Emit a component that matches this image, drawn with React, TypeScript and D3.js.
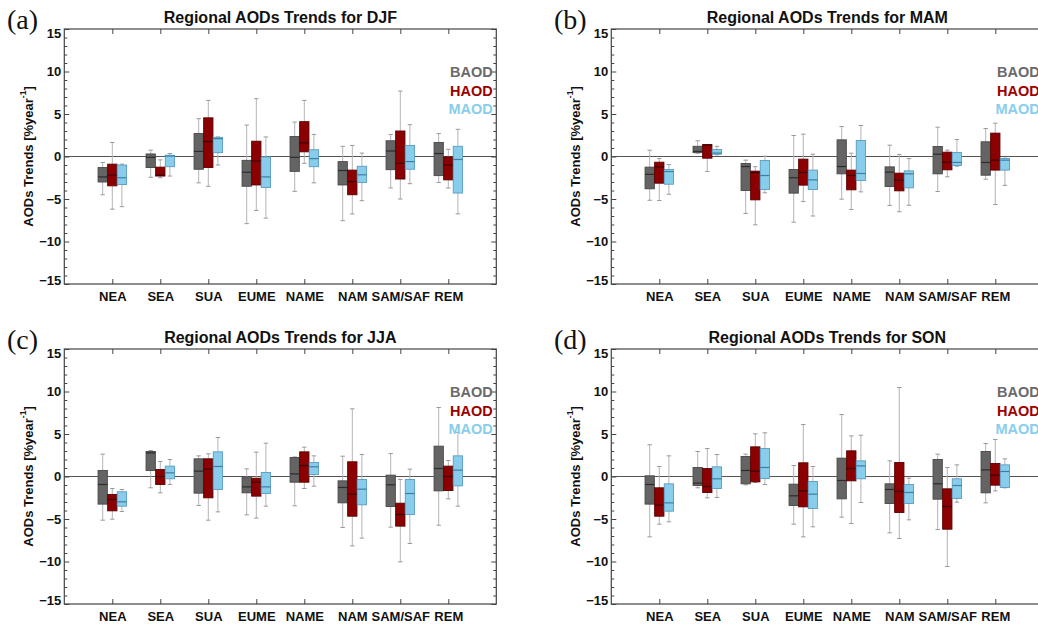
import React, { useEffect, useRef } from "react";
import * as d3 from "d3";

// categories / series
const regions = ["NEA", "SEA", "SUA", "EUME", "NAME", "NAM", "SAM/SAF", "REM"];
const seriesNames = ["BAOD", "HAOD", "MAOD"];
const seasons = ["DJF", "MAM", "JJA", "SON"];
const panelTags = ["(a)", "(b)", "(c)", "(d)"];
const yMajor = [-15, -10, -5, 0, 5, 10, 15];

// each entry: [min, q1, median, q3, max] per region
const djfBAOD = [[-4.5, -3.0, -2.4, -1.3, -0.7], [-2.45, -1.3, -0.1, 0.3, 0.75], [-3.1, -1.5, 0.6, 2.7, 4.45], [-7.9, -3.5, -1.85, -0.45, 3.7], [-4.1, -1.75, -0.1, 2.35, 4.05], [-7.55, -3.35, -1.65, -0.6, 1.2], [-3.7, -1.55, 0.65, 1.85, 2.6], [-3.05, -2.25, 0.35, 1.65, 2.7]];
const djfHAOD = [[-6.2, -3.45, -2.2, -0.9, 1.65], [-2.5, -2.3, -2.2, -1.25, -0.4], [-3.5, -1.3, 1.75, 4.55, 6.6], [-6.35, -3.35, -0.5, 1.8, 6.8], [-0.8, 0.55, 1.6, 4.1, 6.6], [-6.75, -4.5, -2.95, -1.6, 1.3], [-5.0, -2.65, -0.8, 3.0, 7.7], [-3.7, -2.75, -1.0, -0.05, 0.85]];
const djfMAOD = [[-5.9, -3.3, -2.5, -1.0, -0.9], [-2.3, -1.2, 0.05, 0.15, 0.35], [-1.0, 0.45, 2.1, 2.25, 2.3], [-7.25, -3.65, -2.4, -0.05, 2.3], [-3.1, -1.2, -0.25, 0.8, 2.6], [-5.2, -3.05, -2.15, -1.15, 0.4], [-3.2, -1.5, -0.6, 1.3, 3.75], [-6.75, -4.3, -0.35, 1.2, 3.2]];

const mamBAOD = [[-5.15, -3.8, -2.1, -1.25, 0.74], [0.4, 0.45, 0.6, 1.2, 1.85], [-6.7, -4.0, -1.18, -0.82, -0.43], [-7.73, -4.31, -2.5, -1.53, 2.47], [-5.02, -2.04, -1.18, 1.96, 3.53], [-5.76, -3.53, -1.84, -1.22, 1.33], [-4.12, -2.04, 0.27, 1.18, 3.45], [-2.67, -2.2, -0.7, 1.73, 3.29]];
const mamHAOD = [[-5.18, -3.14, -1.22, -0.67, -0.24], [-1.76, -0.2, 1.35, 1.4, 1.4], [-8.04, -5.1, -1.9, -1.72, -1.2], [-5.3, -3.37, -1.88, -0.31, 2.63], [-6.24, -3.92, -2.24, -1.6, 0.39], [-6.5, -4.04, -2.8, -1.96, 0.24], [-2.39, -1.57, -0.67, 0.51, 0.75], [-5.65, -1.6, -0.43, 2.75, 3.92]];
const mamMAOD = [[-4.44, -3.26, -1.77, -1.53, -0.95], [0.2, 0.27, 0.4, 0.82, 1.2], [-4.27, -3.88, -2.24, -0.47, 0.04], [-7.0, -3.88, -2.75, -1.6, 0.27], [-4.16, -2.82, -2.0, 1.88, 3.65], [-5.73, -3.69, -2.04, -1.69, -0.24], [-1.14, -1.06, -0.7, 0.47, 2.0], [-3.4, -1.6, -0.43, -0.24, -0.2]];

const jjaBAOD = [[-5.14, -3.25, -0.94, 0.71, 2.63], [-1.33, 0.71, 2.78, 2.94, 3.06], [-3.41, -1.96, 0.63, 2.08, 2.43], [-4.51, -1.92, -1.22, -0.08, 0.9], [-3.45, -0.67, 0.31, 2.24, 2.3], [-6.0, -3.1, -1.29, -0.51, 2.39], [-5.96, -3.53, -0.98, 0.16, 2.7], [-5.73, -1.69, 0.94, 3.57, 8.12]];
const jjaHAOD = [[-5.02, -4.04, -2.7, -2.12, -1.41], [-1.92, -0.94, 0.0, 0.82, 1.76], [-5.14, -2.51, 0.86, 2.08, 2.67], [-4.9, -2.31, -0.67, -0.2, 2.86], [-1.41, -0.67, 1.29, 2.9, 3.45], [-8.16, -4.67, -2.08, 1.73, 7.96], [-10.04, -5.84, -4.47, -3.14, -0.35], [-2.63, -1.65, 0.0, 1.22, 1.88]];
const jjaMAOD = [[-4.12, -3.49, -2.98, -1.8, -1.53], [-0.94, -0.27, 0.43, 1.22, 2.0], [-4.16, -1.53, 1.18, 2.9, 4.59], [-3.49, -2.0, -1.22, 0.47, 3.92], [-1.14, 0.24, 1.14, 1.65, 2.43], [-7.25, -3.33, -1.49, -0.35, 2.59], [-7.88, -4.47, -2.0, -0.35, 0.86], [-3.49, -1.1, 0.75, 2.43, 5.2]];

const sonBAOD = [[-7.1, -3.25, -0.94, 0.08, 3.73], [-1.33, -1.06, -0.78, 1.06, 2.94], [-0.98, -0.86, 0.71, 2.35, 2.63], [-5.61, -3.41, -2.27, -0.9, 1.29], [-4.78, -2.63, -0.47, 2.16, 7.29], [-6.63, -3.18, -1.53, -0.86, 1.84], [-6.24, -2.67, -0.86, 2.0, 2.63], [-3.1, -1.92, 0.78, 2.94, 3.88]];
const sonHAOD = [[-5.61, -4.67, -3.37, -1.33, 1.18], [-2.51, -1.88, -1.18, 0.94, 3.29], [-0.7, -0.63, 0.63, 3.49, 5.02], [-7.1, -3.57, -1.69, 1.61, 6.12], [-5.53, -0.51, 0.94, 3.02, 4.78], [-7.29, -4.24, -1.76, 1.65, 10.47], [-10.59, -6.2, -3.53, -1.45, 1.06], [-1.69, -1.02, 0.16, 1.53, 4.35]];
const sonMAOD = [[-5.33, -4.08, -3.1, -0.86, 2.43], [-2.47, -1.41, -0.27, 1.14, 2.59], [-0.94, -0.24, 1.06, 3.29, 5.14], [-5.92, -3.76, -2.08, -0.59, 1.18], [-3.06, -0.27, 1.25, 1.84, 4.86], [-5.1, -3.18, -1.88, -0.94, -0.2], [-3.02, -2.59, -1.06, -0.27, 1.37], [-1.33, -1.29, 0.59, 1.37, 2.08]];

const panelData = [
  [djfBAOD, djfHAOD, djfMAOD],
  [mamBAOD, mamHAOD, mamMAOD],
  [jjaBAOD, jjaHAOD, jjaMAOD],
  [sonBAOD, sonHAOD, sonMAOD],
];

// styles
const boxFill = ["#646464", "#8b0000", "#88ceec"];
const boxStroke = ["#484848", "#5c0000", "#5a9cc0"];
const medianColor = ["#2c2c2c", "#3a0000", "#3e7ea2"];
const legendColor = ["#6a6a6a", "#9e0000", "#88ceec"];

const W = 1038;
const H = 625;
const panelOrigin = [[0, 0], [547, 0], [0, 320], [547, 320]];
const frame = { left: 64.3, top: 29, width: 432, height: 255 };

export default function App() {
  const svgRef = useRef(null);

  useEffect(() => {
    document.body.style.margin = "0";
    const svg = d3.select(svgRef.current);
    svg.selectAll("*").remove();

    const x = d3.scalePoint().domain(regions).range([0, frame.width]).padding(1);
    const step = x.step();
    const xs = d3.scaleBand().domain(seriesNames).range([-0.3 * step, 0.3 * step]);
    const bw = xs.bandwidth() - 0.3;
    const y = d3.scaleLinear().domain([-15, 15]).range([frame.height, 0]);
    const minor = d3.range(-15, 16).filter((v) => v % 5 !== 0);

    panelData.forEach((series, p) => {
      const [ox, oy] = panelOrigin[p];
      const g = svg.append("g").attr("transform", `translate(${ox},${oy})`);

      // panel tag
      g.append("text")
        .attr("x", 7)
        .attr("y", 29)
        .attr("font-family", "'Liberation Serif', 'DejaVu Serif', serif")
        .attr("font-size", 28)
        .attr("fill", "#111")
        .text(panelTags[p]);

      // title
      g.append("text")
        .attr("x", frame.left + frame.width / 2)
        .attr("y", 22.5)
        .attr("text-anchor", "middle")
        .attr("font-size", 16)
        .attr("font-weight", "bold")
        .attr("fill", "#111")
        .text(`Regional AODs Trends for ${seasons[p]}`);

      const plot = g.append("g").attr("transform", `translate(${frame.left},${frame.top})`);

      // zero line
      plot.append("line")
        .attr("x1", 0).attr("x2", frame.width)
        .attr("y1", y(0)).attr("y2", y(0))
        .attr("stroke", "#555").attr("stroke-width", 1);

      // boxes
      series.forEach((vals, s) => {
        const grp = plot.append("g");
        vals.forEach((d, i) => {
          const cx = x(regions[i]) + xs(seriesNames[s]) + xs.bandwidth() / 2;
          const [mn, q1, md, q3, mx] = d;
          grp.append("line")
            .attr("x1", cx).attr("x2", cx)
            .attr("y1", y(mx)).attr("y2", y(mn))
            .attr("stroke", "#b4b4b4").attr("stroke-width", 1);
          [mn, mx].forEach((v) => {
            grp.append("line")
              .attr("x1", cx - 2.2).attr("x2", cx + 2.2)
              .attr("y1", y(v)).attr("y2", y(v))
              .attr("stroke", "#999").attr("stroke-width", 1);
          });
          grp.append("rect")
            .attr("x", cx - bw / 2)
            .attr("y", y(q3))
            .attr("width", bw)
            .attr("height", Math.max(1, y(q1) - y(q3)))
            .attr("fill", boxFill[s])
            .attr("stroke", boxStroke[s])
            .attr("stroke-width", 0.9);
          grp.append("line")
            .attr("x1", cx - bw / 2).attr("x2", cx + bw / 2)
            .attr("y1", y(md)).attr("y2", y(md))
            .attr("stroke", medianColor[s]).attr("stroke-width", 1.2);
        });
      });

      // axes
      const left = plot.append("g")
        .call(d3.axisLeft(y).tickValues(yMajor).tickSizeInner(-5).tickSizeOuter(0).tickPadding(3).tickFormat(d3.format("d")));
      left.selectAll("text")
        .attr("font-size", 13)
        .attr("font-weight", "bold")
        .attr("fill", "#111")
        .attr("transform", (d) => (d === 15 ? "translate(0,4)" : d === -15 ? "translate(0,-4)" : null));
      plot.append("g").call(d3.axisLeft(y).tickValues(minor).tickSizeInner(-3).tickSizeOuter(0).tickFormat(() => ""));

      plot.append("g").attr("transform", `translate(${frame.width},0)`)
        .call(d3.axisRight(y).tickValues(yMajor).tickSizeInner(-5).tickSizeOuter(0).tickFormat(() => ""));
      plot.append("g").attr("transform", `translate(${frame.width},0)`)
        .call(d3.axisRight(y).tickValues(minor).tickSizeInner(-3).tickSizeOuter(0).tickFormat(() => ""));

      plot.append("g").call(d3.axisTop(x).tickSizeInner(-5).tickSizeOuter(0).tickFormat(() => ""));
      const bottom = plot.append("g").attr("transform", `translate(0,${frame.height})`)
        .call(d3.axisBottom(x).tickSizeInner(-5).tickSizeOuter(0).tickPadding(8));
      bottom.selectAll("text")
        .attr("font-size", 13)
        .attr("font-weight", "bold")
        .attr("fill", "#111");

      plot.selectAll(".domain").remove();
      plot.selectAll(".tick line").attr("stroke", "#444");

      // frame
      plot.append("rect")
        .attr("width", frame.width).attr("height", frame.height)
        .attr("fill", "none").attr("stroke", "#444").attr("stroke-width", 1.2);

      // legend
      seriesNames.forEach((name, s) => {
        plot.append("text")
          .attr("x", frame.width - 3.6)
          .attr("y", 48 + s * 18.5)
          .attr("text-anchor", "end")
          .attr("font-size", 14.5)
          .attr("font-weight", "bold")
          .attr("fill", legendColor[s])
          .text(name);
      });

      // y label
      const yl = g.append("text")
        .attr("transform", `translate(28.3,${frame.top + y(0)}) rotate(-90)`)
        .attr("text-anchor", "middle")
        .attr("dominant-baseline", "central")
        .attr("font-size", 13)
        .attr("font-weight", "bold")
        .attr("fill", "#111");
      yl.append("tspan").text("AODs Trends [%year");
      yl.append("tspan").attr("font-size", 8.5).attr("dy", -5).text("-1");
      yl.append("tspan").attr("dy", 5).text("]");
    });
  }, []);

  return (
    <svg
      ref={svgRef}
      width={W}
      height={H}
      style={{ display: "block", background: "#fff", fontFamily: "'Liberation Sans', Arial, Helvetica, sans-serif" }}
    />
  );
}
